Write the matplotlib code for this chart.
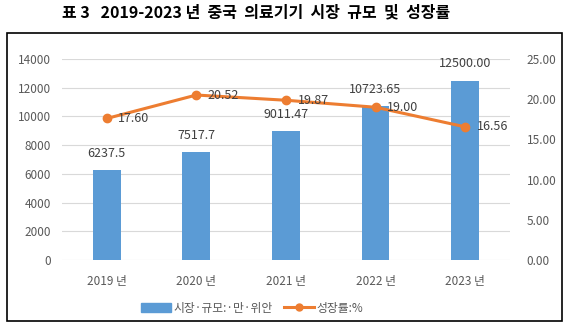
import matplotlib
matplotlib.use("Agg")
import matplotlib.pyplot as plt
from matplotlib.patches import Rectangle
from matplotlib.lines import Line2D

plt.rcParams['font.family'] = ['Noto Sans CJK KR', 'DejaVu Sans']

years = ['2019 년', '2020 년', '2021 년', '2022 년', '2023 년']
market_size = [6237.5, 7517.7, 9011.47, 10723.65, 12500.00]
size_labels = ['6237.5', '7517.7', '9011.47', '10723.65', '12500.00']
growth = [17.60, 20.52, 19.87, 19.00, 16.56]

blue = '#5B9BD5'
orange = '#ED7D31'
grey = '#595959'

fig = plt.figure(figsize=(5.73, 3.26), dpi=100)
fig.patches.append(Rectangle((0.012, 0.015), 0.969, 0.883, transform=fig.transFigure,
                             fill=False, edgecolor='black', linewidth=1.2))
fig.text(0.447, 0.962, '표 3   2019-2023 년  중국  의료기기  시장  규모  및  성장률',
         ha='center', va='center', fontsize=11.5, fontweight='bold')

ax = fig.add_axes([0.108, 0.2025, 0.782, 0.6165])
x = range(len(years))
ax.bar(x, market_size, width=0.31, color=blue, zorder=2)
for xi, v, lab in zip(x, market_size, size_labels):
    ax.text(xi, v + 700, lab, ha='center', va='bottom', fontsize=9, color='#404040')

ax.set_xlim(-0.5, 4.5)
ax.set_ylim(0, 14000)
ax.set_yticks(range(0, 14001, 2000))
ax.set_xticks(list(x))
ax.set_xticklabels(years)
ax.grid(axis='y', color='#D9D9D9', linewidth=0.8, zorder=0)
for s in ax.spines.values():
    s.set_visible(False)
ax.tick_params(axis='y', length=0, labelsize=8.5, colors=grey, pad=8)
ax.tick_params(axis='x', length=0, labelsize=8.5, colors=grey, pad=11)

ax2 = ax.twinx()
ax2.plot(x, growth, color=orange, linewidth=2.2, marker='o', markersize=6, zorder=3)
for xi, g in zip(x, growth):
    ax2.text(xi + 0.13, g, f'{g:.2f}', ha='left', va='center', fontsize=9, color='#404040')
ax2.set_ylim(0, 25)
ax2.set_yticks(range(0, 26, 5))
ax2.set_yticklabels([f'{v:.2f}' for v in range(0, 26, 5)])
for s in ax2.spines.values():
    s.set_visible(False)
ax2.tick_params(length=0, labelsize=8.5, colors=grey, pad=12)

handles = [Rectangle((0, 0), 1, 1, color=blue),
           Line2D([0], [0], color=orange, linewidth=2.2, marker='o', markersize=5)]
fig.legend(handles, ['시장·규모:·만·위안', '성장률:%'], loc='center', bbox_to_anchor=(0.44, 0.055),
           ncol=2, frameon=False, fontsize=8.5, labelcolor=grey, handlelength=2.5,
           handletextpad=0.2, columnspacing=1.0)

fig.savefig('out.png', dpi=100)
